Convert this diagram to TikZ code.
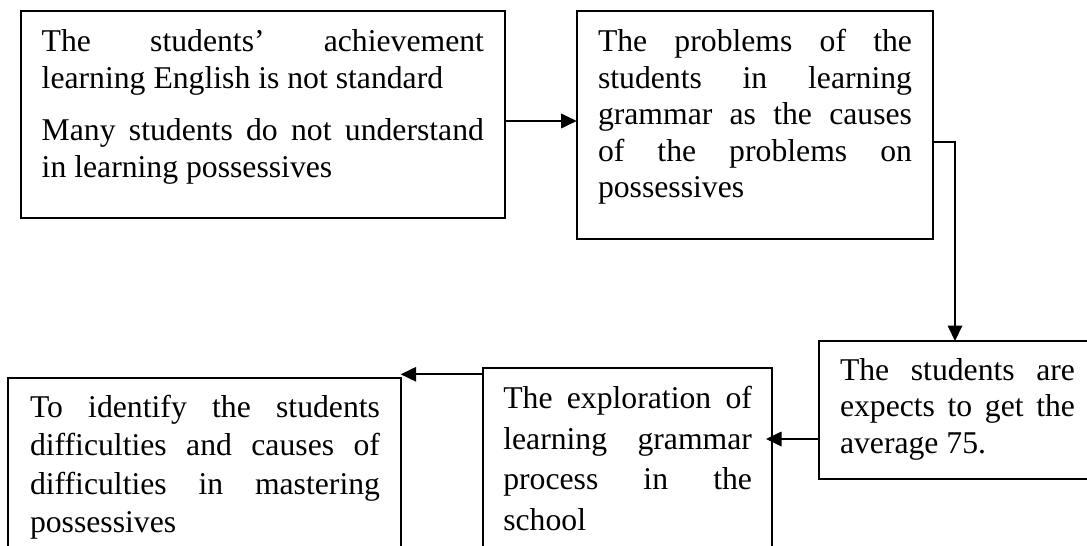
\documentclass[tikz,border=0pt]{standalone}
\usepackage{fontspec}
\setmainfont{Liberation Serif}
\usetikzlibrary{arrows.meta,calc}
\newcommand\jline[1]{\hbox{\makebox[\hsize][s]{#1}}}
\newcommand\nline[1]{\hbox{#1}}
\tikzset{
  box/.style={draw=black, line width=1.8pt, inner sep=0pt, outer sep=0pt, anchor=north west},
  txt/.style={inner sep=0pt, outer sep=0pt, anchor=base west, font=\fontsize{31.7}{36.5}\selectfont},
  arr/.style={line width=1.8pt, -{Triangle[length=15.5pt,width=14.5pt]}},
}
\begin{document}
\begin{tikzpicture}[x=1pt,y=-1pt]
\useasboundingbox (0,0) rectangle (1087,546);
\fill[white] (0,0) rectangle (1087,546);
\clip (0,0) rectangle (1087,546);
% boxes
\node[box, minimum width=484.3pt, minimum height=207.3pt] (b1) at (20.7,11) {};
\node[box, minimum width=356pt, minimum height=228.3pt] (b2) at (576.7,11) {};
\node[box, minimum width=277pt, minimum height=138pt] (b3) at (819,341) {};
\node[box, minimum width=289.3pt, minimum height=220pt] (b4) at (482.7,368.3) {};
\node[box, minimum width=392.4pt, minimum height=220pt] (b5) at (8.3,377.7) {};
% texts
\node[txt] (t1) at (41.7,51.7) {\vtop{\hsize=442.3pt\baselineskip=36.6pt
  \jline{The students’ achievement}
  \nline{learning English is not standard}
  \vskip 15.9pt
  \jline{Many students do not understand}
  \nline{in learning possessives}}};
\node[txt] (t2) at (598,51.7) {\vtop{\hsize=314pt\baselineskip=36.5pt
  \jline{The problems of the}
  \jline{students in learning}
  \jline{grammar as the causes}
  \jline{of the problems on}
  \nline{possessives}}};
\node[txt] (t3) at (840,380) {\vtop{\hsize=235pt\baselineskip=36.6pt
  \jline{The students are}
  \jline{expects to get the}
  \nline{average 75.}}};
\node[txt] (t4) at (503.3,408.3) {\vtop{\hsize=248.7pt\baselineskip=40.7pt
  \jline{The exploration of}
  \jline{learning grammar}
  \jline{process in the}
  \nline{school}}};
\node[txt] (t5) at (30,417.3) {\vtop{\hsize=350pt\baselineskip=38.5pt
  \jline{To identify the students}
  \jline{difficulties and causes of}
  \jline{difficulties in mastering}
  \nline{possessives}}};
% connectors
\coordinate (a1) at ([yshift=-110pt]b1.north east);
\draw[arr] (a1) -- (a1 -| b2.west);
\coordinate (a2) at ([yshift=-131.3pt]b2.north east);
\coordinate (k2) at (955,0);
\draw[arr] (a2) -| (k2 |- b3.north);
\coordinate (a3) at ([yshift=-98pt]b3.north west);
\draw[arr, shorten >=-6pt] (a3) -- (a3 -| b4.east);
\coordinate (a4) at ([yshift=-6pt]b4.north west);
\draw[arr] (a4) -- (a4 -| b5.east);
\end{tikzpicture}
\end{document}
